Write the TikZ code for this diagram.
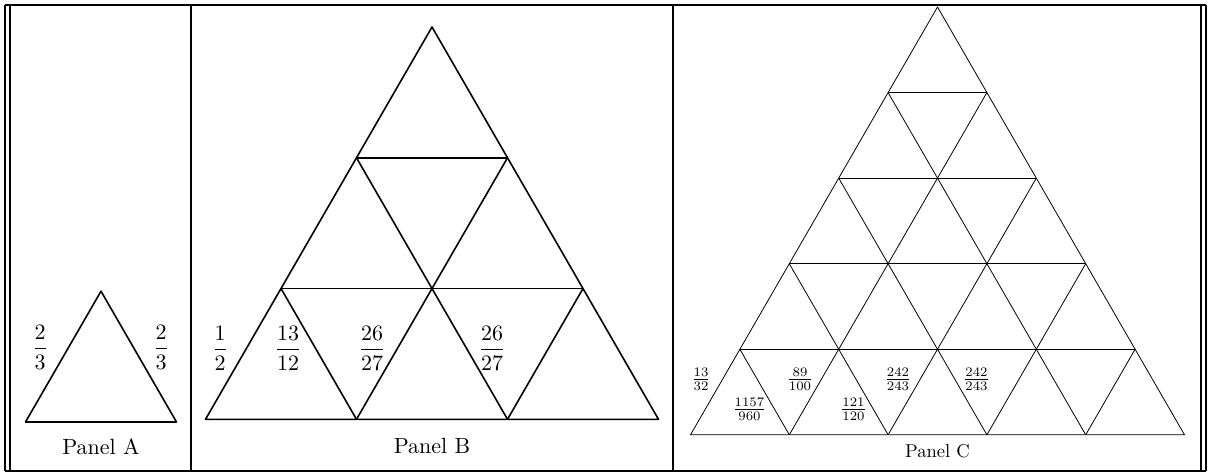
\documentclass[tikz,border=0pt]{standalone}
\usepackage{amsmath}
\usepackage{tikz}

\begin{document}
\begin{tikzpicture}[
  x=0.5pt, y=-0.5pt,
  rule/.style={line width=0.8pt},
  bigtri/.style={line width=0.8pt, line join=round},
  smalltri/.style={line width=0.4pt, line join=round},
  biglabel/.style={scale=1.1},
  smalllabel/.style={scale=0.93}
  ]
\useasboundingbox (0,0) rectangle (1211,473);
% frame
\draw [rule] (5,5) -- (1206,5);
\draw [rule] (5,471) -- (1206,471);
\draw [rule] (5,5) -- (5,471);
\draw [rule] (10,5) -- (10,471);
\draw [rule] (191,5) -- (191,471);
\draw [rule] (673,5) -- (673,471);
\draw [rule] (1201,5) -- (1201,471);
\draw [rule] (1206,5) -- (1206,471);
% panel A
\draw [bigtri] (25.5,422) -- (101,291.2) -- (176.5,422) -- cycle;
\node [biglabel] (aleft) at (40,347) {$\dfrac{2}{3}$};
\node [biglabel] (aright) at (161,347) {$\dfrac{2}{3}$};
\node [biglabel] (panela) at (101,447) {Panel A};
% panel B
\draw [bigtri] (432,27) -- (205.5,419.3) -- (658.5,419.3) -- cycle;
\draw [bigtri] (356.5,157.8) -- (507.5,157.8);
\draw [bigtri] (281,288.5) -- (583,288.5);
\draw [bigtri] (507.5,157.8) -- (356.5,419.3);
\draw [bigtri] (583,288.5) -- (507.5,419.3);
\draw [bigtri] (356.5,157.8) -- (507.5,419.3);
\draw [bigtri] (281,288.5) -- (356.5,419.3);
\node [biglabel] (bone) at (220,348) {$\dfrac{1}{2}$};
\node [biglabel] (btwo) at (288,348) {$\dfrac{13}{12}$};
\node [biglabel] (bthree) at (372,348) {$\dfrac{26}{27}$};
\node [biglabel] (bfour) at (492,348) {$\dfrac{26}{27}$};
\node [biglabel] (panelb) at (432,446) {Panel B};
% panel C
\draw [smalltri] (937.5,7) -- (690.5,434.8) -- (1184.5,434.8) -- cycle;
\draw [smalltri] (888.1,92.56) -- (986.9,92.56);
\draw [smalltri] (838.7,178.12) -- (1036.3,178.12);
\draw [smalltri] (789.3,263.68) -- (1085.7,263.68);
\draw [smalltri] (739.9,349.24) -- (1135.1,349.24);
\draw [smalltri] (986.9,92.56) -- (789.3,434.8);
\draw [smalltri] (1036.3,178.12) -- (888.1,434.8);
\draw [smalltri] (1085.7,263.68) -- (986.9,434.8);
\draw [smalltri] (1135.1,349.24) -- (1085.7,434.8);
\draw [smalltri] (888.1,92.56) -- (1085.7,434.8);
\draw [smalltri] (838.7,178.12) -- (986.9,434.8);
\draw [smalltri] (789.3,263.68) -- (888.1,434.8);
\draw [smalltri] (739.9,349.24) -- (789.3,434.8);
\node [smalllabel] (cone) at (701,379.5) {$\frac{13}{32}$};
\node [smalllabel] (ctwo) at (749.5,409.5) {$\frac{1157}{960}$};
\node [smalllabel] (cthree) at (800,379.5) {$\frac{89}{100}$};
\node [smalllabel] (cfour) at (853.5,409.5) {$\frac{121}{120}$};
\node [smalllabel] (cfive) at (898,379.5) {$\frac{242}{243}$};
\node [smalllabel] (csix) at (976.5,379.5) {$\frac{242}{243}$};
\node [smalllabel] (panelc) at (937.5,451) {Panel C};
\end{tikzpicture}
\end{document}
